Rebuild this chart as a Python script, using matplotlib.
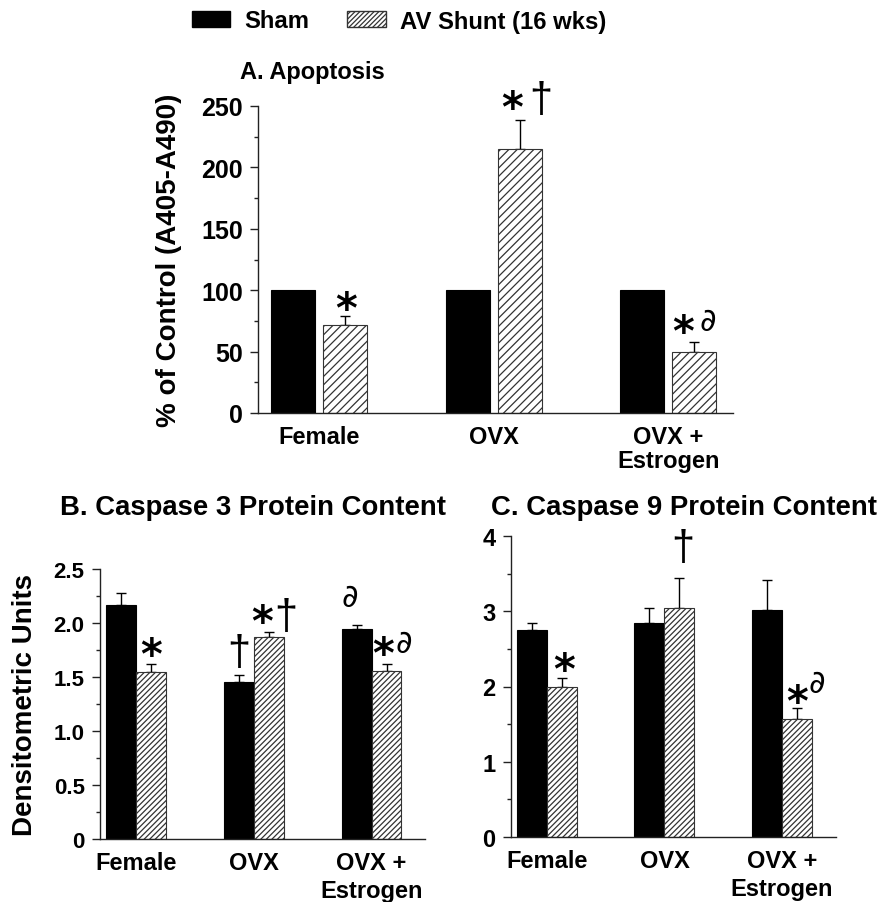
import numpy as np
import matplotlib
matplotlib.use("Agg")
import matplotlib.pyplot as plt
from matplotlib.patches import Patch
from matplotlib.ticker import MultipleLocator

plt.rcParams['font.family'] = ['Liberation Sans', 'DejaVu Sans']
plt.rcParams['hatch.linewidth'] = 0.9

W, H, DPI = 882, 903, 100

groups = ["Female", "OVX", "OVX +\nEstrogen"]
series_names = ["Sham", "AV Shunt (16 wks)"]

# A. Apoptosis (% of control)
apop_sham = [100, 100, 100]
apop_sham_err = [0, 0, 0]
apop_shunt = [72, 215, 50]
apop_shunt_err = [7, 24, 8]

# B. Caspase 3 protein content (densitometric units)
casp3_sham = [2.17, 1.45, 1.94]
casp3_sham_err = [0.11, 0.07, 0.04]
casp3_shunt = [1.55, 1.87, 1.56]
casp3_shunt_err = [0.07, 0.05, 0.06]

# C. Caspase 9 protein content (densitometric units)
casp9_sham = [2.75, 2.84, 3.01]
casp9_sham_err = [0.10, 0.20, 0.40]
casp9_shunt = [2.00, 3.04, 1.57]
casp9_shunt_err = [0.11, 0.40, 0.14]

# significance marks: (group, series, text, dx px, dy px, style)
apop_marks = [(0, 1, "*", 1, 6, "star"),
              (1, 1, "*", -8, 11, "star"), (1, 1, "\u2020", 21, 20, "dag"),
              (2, 1, "*", -11, 9, "star"), (2, 1, "\u2202", 13, 20, "del")]
casp3_marks = [(0, 1, "*", 0, 8, "star"),
               (1, 0, "\u2020", 0, 22, "dag"),
               (1, 1, "*", -7, 9, "star"), (1, 1, "\u2020", 17, 15, "dag"),
               (2, 0, "\u2202", -7, 28, "del"),
               (2, 1, "*", -3, 9, "star"), (2, 1, "\u2202", 17, 21, "del")]
casp9_marks = [(0, 1, "*", 2, 7, "star"),
               (1, 1, "\u2020", 3, 30, "dag"),
               (2, 1, "*", 0, 5, "star"), (2, 1, "\u2202", 20, 25, "del")]

fig = plt.figure(figsize=(W / DPI, H / DPI), dpi=DPI)


def px_rect(x0, y0, x1, y1):
    return [x0 / W, 1 - y1 / H, (x1 - x0) / W, (y1 - y0) / H]


def panel(rect, sham, sham_err, shunt, shunt_err, width, gap, xlim, ylim,
          major, minor, tick_fs, cat_fs, cat_ls, cat_pad, hatch, marks):
    ax = fig.add_axes(rect)
    x = np.arange(len(groups))
    off = width / 2 + gap / 2
    xs = [x - off, x + off]
    vals = [sham, shunt]
    errs = [sham_err, shunt_err]
    ax.bar(xs[0], sham, width, color="black", edgecolor="black",
           linewidth=0.8, zorder=2)
    ax.bar(xs[1], shunt, width, color="white", edgecolor="#333333",
           hatch=hatch, linewidth=0.8, zorder=2)
    for s in range(2):
        e = np.array(errs[s], dtype=float)
        m = e > 0
        if m.any():
            ax.errorbar(xs[s][m], np.array(vals[s])[m],
                        yerr=[np.zeros(m.sum()), e[m]], fmt="none",
                        ecolor="black", elinewidth=1.0, capsize=3.5,
                        capthick=1.0, zorder=1)
    ax.set_xlim(*xlim)
    ax.set_ylim(*ylim)
    ax.yaxis.set_major_locator(MultipleLocator(major))
    ax.yaxis.set_minor_locator(MultipleLocator(minor))
    ax.spines["top"].set_visible(False)
    ax.spines["right"].set_visible(False)
    for sp in ("left", "bottom"):
        ax.spines[sp].set_linewidth(1.0)
        ax.spines[sp].set_color("#222222")
    ax.tick_params(axis="y", which="major", length=6, width=1,
                   labelsize=tick_fs, pad=5, color="#222222")
    ax.tick_params(axis="y", which="minor", length=3, width=1,
                   color="#222222")
    ax.tick_params(axis="x", length=0, labelsize=cat_fs, pad=cat_pad)
    ax.set_xticks(x)
    ax.set_xticklabels(groups, fontweight="bold", linespacing=cat_ls)
    for lab in ax.get_yticklabels():
        lab.set_fontweight("bold")
    styles = {"star": dict(fontsize=30, fontweight="bold",
                           family=["DejaVu Sans"]),
              "dag": dict(fontsize=30, family=["Liberation Sans"]),
              "del": dict(fontsize=23, style="italic",
                          family=["DejaVu Sans"])}
    for g, s, t, dx, dy, st in marks:
        top = vals[s][g] + errs[s][g]
        ax.annotate(t, xy=(xs[s][g], top), xytext=(dx, dy),
                    textcoords="offset pixels", ha="center", va="center",
                    annotation_clip=False, **styles[st])
    return ax


axA = panel(px_rect(258, 107, 733, 414), apop_sham, apop_sham_err,
            apop_shunt, apop_shunt_err, 0.252, 0.046, (-0.352, 2.37),
            (0, 250), 50, 25, 18, 17, 1.05, 8.5, "////", apop_marks)
axA.set_ylabel("% of Control (A405-A490)", fontsize=20, fontweight="bold")
axA.yaxis.set_label_coords(-0.16, 0.5)

axB = panel(px_rect(100, 570, 425, 840), casp3_sham, casp3_sham_err,
            casp3_shunt, casp3_shunt_err, 0.255, 0.0, (-0.31, 2.455),
            (0, 2.5), 0.5, 0.25, 16, 17, 1.3, 8.5, "//////", casp3_marks)
axB.set_yticks([0, 0.5, 1.0, 1.5, 2.0, 2.5])
axB.set_yticklabels(["0", "0.5", "1.0", "1.5", "2.0", "2.5"],
                    fontweight="bold")
axB.set_ylabel("Densitometric Units", fontsize=20, fontweight="bold")
axB.yaxis.set_label_coords(-0.19, 0.5)

axC = panel(px_rect(511, 537, 836, 838), casp9_sham, casp9_sham_err,
            casp9_shunt, casp9_shunt_err, 0.255, 0.0, (-0.306, 2.46),
            (0, 4), 1, 0.5, 17, 17, 1.3, 8.5, "//////", casp9_marks)

fig.text(312 / W, 1 - 73 / H, "A. Apoptosis", ha="center", va="center",
         fontsize=17, fontweight="bold")
fig.text(253 / W, 1 - 508 / H, "B. Caspase 3 Protein Content", ha="center",
         va="center", fontsize=19.8, fontweight="bold")
fig.text(684 / W, 1 - 508 / H, "C. Caspase 9 Protein Content", ha="center",
         va="center", fontsize=19.8, fontweight="bold")

handles = [Patch(facecolor="black", edgecolor="black"),
           Patch(facecolor="white", edgecolor="#333333", hatch="///////")]
fig.legend(handles, series_names, loc="center", bbox_to_anchor=(399 / W, 1 - 22 / H),
           ncol=2, frameon=False, prop=dict(size=17.2, weight="bold"),
           handlelength=1.6, handleheight=0.6, handletextpad=0.6,
           columnspacing=1.6, borderpad=0)

fig.savefig("out.png", dpi=DPI)
